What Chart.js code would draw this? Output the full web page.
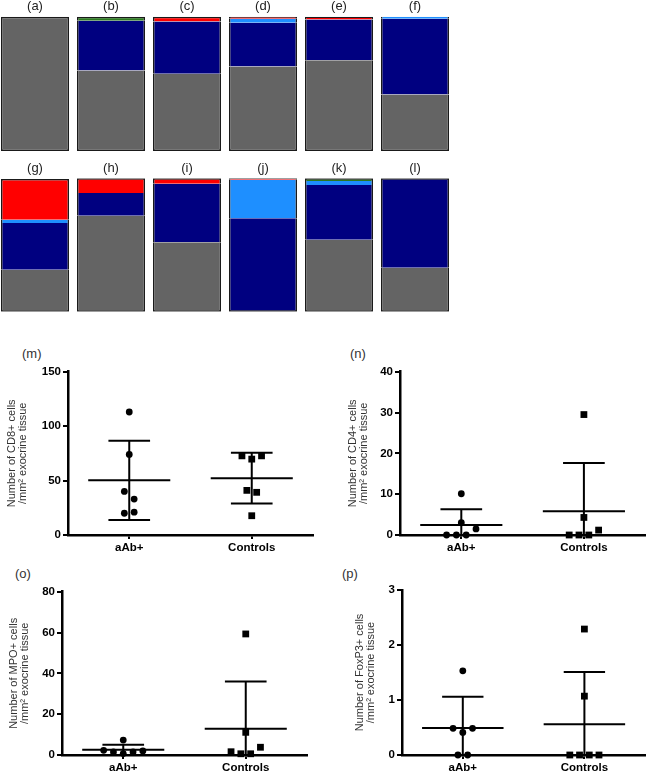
<!DOCTYPE html>
<html>
<head>
<meta charset="utf-8">
<script src="https://cdn.jsdelivr.net/npm/chart.js@4/dist/chart.umd.min.js"></script>
<style>
  html, body { margin: 0; padding: 0; background: #fff; }
  body { width: 650px; height: 772px; position: relative; overflow: hidden; font-family: 'Liberation Sans', Arial, sans-serif; }
  canvas { position: absolute; }
  .lbl { position: absolute; font-size: 13px; line-height: 13px; color: #333; }
</style>
</head>
<body>
<canvas id="row1" width="456" height="155" style="left:-3px;top:0px"></canvas>
<canvas id="row2" width="456" height="155" style="left:-3px;top:160px"></canvas>

<div class="lbl" style="left:22px;top:347px">(m)</div>
<div class="lbl" style="left:350px;top:347px">(n)</div>
<div class="lbl" style="left:15px;top:567px">(o)</div>
<div class="lbl" style="left:342px;top:567px">(p)</div>

<canvas id="pm" width="318" height="195" style="left:0px;top:360px"></canvas>
<canvas id="pn" width="330" height="195" style="left:320px;top:360px"></canvas>
<canvas id="po" width="312" height="192" style="left:0px;top:580px"></canvas>
<canvas id="pp" width="330" height="192" style="left:320px;top:580px"></canvas>

<script>
// ---------- DATA ----------
// Panels (a)-(l): composition of each bar, percent, stacked bottom -> top
const topPanels    = ['(a)', '(b)', '(c)', '(d)', '(e)', '(f)'];
const bottomPanels = ['(g)', '(h)', '(i)', '(j)', '(k)', '(l)'];
const grayPct      = [100, 60, 57.5, 63, 67.5, 42,    31.5, 72, 52, 0, 54, 33];
const navyPct      = [0, 37, 39, 32.5, 30.5, 56.5,    35, 17, 44, 70, 41, 67];
const lightBluePct = [0, 0, 0, 3, 0, 1.2,             2.5, 0, 0, 29, 3, 0];
const redPct       = [0, 0, 3.5, 1.5, 2, 0.3,         30.5, 11, 4, 1, 0, 0];
const greenPct     = [0, 3, 0, 0, 0, 0,               0, 0, 0, 0, 2, 0];

// Panels (m)-(p): cells per mm² exocrine tissue
const groups = ['aAb+', 'Controls'];

const cd8Aab   = [113, 74, 40, 33, 20, 21];
const cd8Ctrl  = [72.7, 69.7, 72.7, 41, 39.2, 17.7];
const cd8Mean  = [50.2, 52.2];
const cd8Sd    = [36.4, 23.3];

const cd4Aab   = [10.1, 3, 0, 0, 0, 1.5];
const cd4Ctrl  = [29.5, 4.3, 0, 0, 0, 1.2];
const cd4Mean  = [2.43, 5.83];
const cd4Sd    = [3.9, 11.8];

const mpoAab   = [7.3, 2.3, 1.5, 0.7, 1.5, 2.0];
const mpoCtrl  = [59.3, 11.1, 1.6, 0.6, 0.6, 3.8];
const mpoMean  = [2.55, 12.8];
const mpoSd    = [2.5, 23.2];

const foxAab   = [1.53, 0.485, 0.41, 0.485, 0, 0];
const foxCtrl  = [2.29, 1.07, 0, 0, 0, 0];
const foxMean  = [0.49, 0.56];
const foxSd    = [0.57, 0.95];

// horizontal jitter of each point within its group (x units)
const cd8JitAab  = [0, 0, -0.04, 0.04, -0.04, 0.04];
const cd8JitCtrl = [-0.08, 0, 0.08, -0.04, 0.04, 0];
const cd4JitAab  = [0, 0, -0.12, -0.04, 0.04, 0.12];
const cd4JitCtrl = [0, 0, -0.12, -0.04, 0.04, 0.12];
const mpoJitAab  = [0, -0.16, -0.08, 0, 0.08, 0.16];
const mpoJitCtrl = [0, 0, -0.12, -0.04, 0.04, 0.12];
const foxJitAab  = [0, -0.08, 0, 0.08, -0.04, 0.04];
const foxJitCtrl = [0, 0, -0.12, -0.04, 0.04, 0.12];

// ---------- CHARTS ----------
const FAMILY = "'Liberation Sans', Arial, sans-serif";
Chart.defaults.font.family = FAMILY;

function makeBars(id, labels, start, pad) {
  const all = [grayPct, navyPct, lightBluePct, redPct, greenPct];
  const series = all.map(a => a.slice(start, start + 6));
  const colors = ['#646464', '#000080', '#1e8fff', '#ff0000', '#2b7a1f'];
  const names = ['Segment 1', 'Segment 2', 'Segment 3', 'Segment 4', 'Segment 5'];
  const bw = (ctx) => {
    const i = ctx.dataIndex, d = ctx.datasetIndex;
    let lo = -1, hi = -1;
    series.forEach((s, k) => { if (s[i] > 0) { if (lo < 0) lo = k; hi = k; } });
    return { left: 1.5, right: 1.5, top: d === hi ? 1.5 : 0, bottom: d === lo ? 1.5 : 0 };
  };
  new Chart(document.getElementById(id), {
    type: 'bar',
    data: {
      labels: labels,
      datasets: series.map((s, k) => ({
        label: names[k], data: s, backgroundColor: colors[k],
        borderColor: '#1a1a1a', borderWidth: bw, borderSkipped: false,
        barPercentage: 0.895, categoryPercentage: 1
      }))
    },
    options: {
      responsive: false, animation: false, devicePixelRatio: 1,
      layout: { padding: { top: 0, left: 0, right: 0, bottom: pad.bottom } },
      plugins: { legend: { display: false }, tooltip: { enabled: false } },
      scales: {
        x: {
          stacked: true, position: 'top',
          grid: { display: false, drawTicks: false }, border: { display: false },
          ticks: { font: { size: 13, family: FAMILY }, color: '#222', padding: pad.tick, maxRotation: 0 },
          afterFit: s => { s.height = pad.axis; }
        },
        y: { stacked: true, display: false, min: 0, max: 100 }
      }
    }
  });
}

const meanSdPlugin = {
  id: 'meanSd',
  beforeDatasetsDraw(chart, args, opts) {
    const { ctx, chartArea: a, scales: { x, y } } = chart;
    ctx.save();
    ctx.beginPath();
    ctx.rect(a.left, a.top - 5, a.right - a.left, a.bottom - a.top + 5);
    ctx.clip();
    ctx.strokeStyle = '#000';
    ctx.lineWidth = 2;
    const seg = (x0, y0, x1, y1) => {
      ctx.beginPath();
      ctx.moveTo(x.getPixelForValue(x0), y.getPixelForValue(y0));
      ctx.lineTo(x.getPixelForValue(x1), y.getPixelForValue(y1));
      ctx.stroke();
    };
    opts.mean.forEach((m, i) => {
      const c = i + 1, s = opts.sd[i];
      seg(c - 0.335, m, c + 0.335, m);
      seg(c, m - s, c, m + s);
      seg(c - 0.17, m + s, c + 0.17, m + s);
      seg(c - 0.17, m - s, c + 0.17, m - s);
    });
    ctx.restore();
  }
};

function makeScatter(id, o) {
  const tickFont = { family: FAMILY, size: 11.5, weight: 'bold' };
  new Chart(document.getElementById(id), {
    type: 'scatter',
    data: {
      datasets: [
        { label: groups[0], data: o.a.map((v, i) => ({ x: 1 + o.ja[i], y: v })),
          pointStyle: 'circle', pointRadius: 3.4, pointBackgroundColor: '#000', pointBorderColor: '#000', pointBorderWidth: 0, clip: false },
        { label: groups[1], data: o.c.map((v, i) => ({ x: 2 + o.jc[i], y: v })),
          pointStyle: 'rect', pointRadius: 4.8, pointBackgroundColor: '#000', pointBorderColor: '#000', pointBorderWidth: 0, clip: false }
      ]
    },
    options: {
      responsive: false, animation: false, devicePixelRatio: 1,
      layout: { padding: o.pad },
      plugins: { legend: { display: false }, tooltip: { enabled: false }, meanSd: { mean: o.mean, sd: o.sd } },
      scales: {
        x: {
          type: 'linear', min: 0.5, max: 2.5,
          afterBuildTicks: s => { s.ticks = [{ value: 1 }, { value: 2 }]; },
          afterFit: s => { s.height = 17; },
          ticks: { callback: v => groups[Math.round(v) - 1], font: tickFont, color: '#000', padding: 2, autoSkip: false, maxRotation: 0 },
          grid: { display: true, drawOnChartArea: false, drawTicks: true, tickLength: 4, color: '#000', lineWidth: 2 },
          border: { display: true, color: '#000', width: 2.5 }
        },
        y: {
          min: 0, max: o.max,
          afterFit: s => { s.width = o.yw; },
          ticks: { stepSize: o.step, font: tickFont, color: '#000', padding: 2 },
          grid: { display: true, drawOnChartArea: false, drawTicks: true, tickLength: 5, color: '#000', lineWidth: 2 },
          border: { display: true, color: '#000', width: 2.5 },
          title: { display: true, text: o.title, font: { family: FAMILY, size: 11, lineHeight: 1.0 }, color: '#333', padding: { top: o.tp, bottom: 0 } }
        }
      }
    },
    plugins: [meanSdPlugin]
  });
}

makeBars('row1', topPanels, 0, { bottom: 4, axis: 16.7, tick: 2 });
makeBars('row2', bottomPanels, 6, { bottom: 3.3, axis: 18.3, tick: 2 });

makeScatter('pm', { a: cd8Aab, c: cd8Ctrl, ja: cd8JitAab, jc: cd8JitCtrl, mean: cd8Mean, sd: cd8Sd,
  max: 150, step: 50, yw: 68, tp: 6, pad: { top: 11.7, right: 5, bottom: 3, left: 0 },
  title: ['Number of CD8+ cells', '/mm² exocrine tissue'] });
makeScatter('pn', { a: cd4Aab, c: cd4Ctrl, ja: cd4JitAab, jc: cd4JitCtrl, mean: cd4Mean, sd: cd4Sd,
  max: 40, step: 10, yw: 80, tp: 27, pad: { top: 11.7, right: 0, bottom: 3, left: 0 },
  title: ['Number of CD4+ cells', '/mm² exocrine tissue'] });
makeScatter('po', { a: mpoAab, c: mpoCtrl, ja: mpoJitAab, jc: mpoJitCtrl, mean: mpoMean, sd: mpoSd,
  max: 80, step: 20, yw: 62, tp: 8.3, pad: { top: 11.7, right: 5, bottom: 0, left: 0 },
  title: ['Number of MPO+ cells', '/mm² exocrine tissue'] });
makeScatter('pp', { a: foxAab, c: foxCtrl, ja: foxJitAab, jc: foxJitCtrl, mean: foxMean, sd: foxSd,
  max: 3, step: 1, yw: 82, tp: 34, pad: { top: 10, right: 0, bottom: 0, left: 0 },
  title: ['Number of FoxP3+ cells', '/mm² exocrine tissue'] });
</script>
</body>
</html>
